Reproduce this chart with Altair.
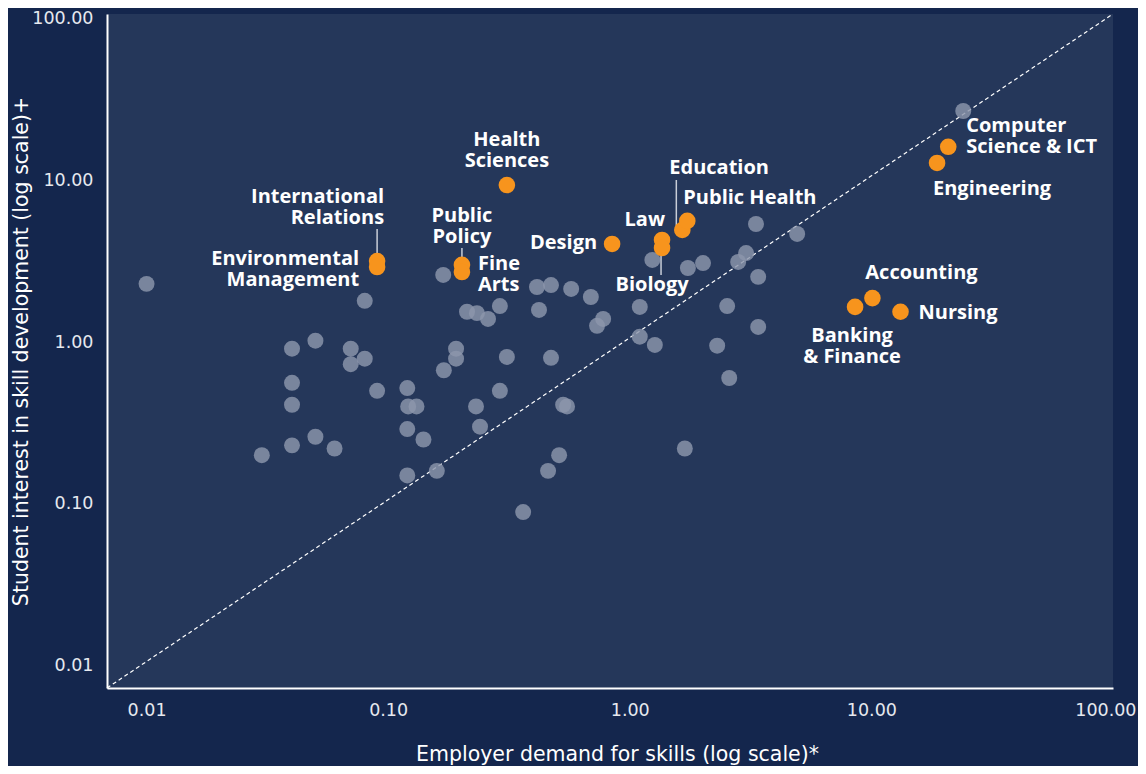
import altair as alt
import pandas as pd

# ---- data ----
gray_x = [0.010, 0.080, 0.040, 0.050, 0.070, 0.080, 0.070, 0.040, 0.040, 0.090,
          0.120, 0.121, 0.131, 0.120, 0.050, 0.040, 0.060, 0.030, 0.120, 0.140,
          0.169, 0.413, 0.472, 0.572, 0.690, 1.10, 0.290, 0.212, 0.233, 0.259,
          0.421, 0.776, 0.732, 0.191, 0.191, 0.170, 0.310, 0.472, 0.290, 0.231,
          0.240, 0.530, 0.550, 0.510, 0.459, 0.159, 0.362, 1.10, 1.27, 1.24,
          1.74, 2.01, 3.33, 4.93, 3.03, 2.81, 3.40, 2.53, 3.40, 2.30,
          2.58, 1.69, 24.0]
gray_y = [2.29, 1.80, 0.91, 1.02, 0.91, 0.79, 0.73, 0.56, 0.41, 0.50,
          0.52, 0.40, 0.40, 0.29, 0.26, 0.23, 0.22, 0.20, 0.15, 0.25,
          2.60, 2.19, 2.25, 2.13, 1.90, 1.65, 1.67, 1.54, 1.51, 1.39,
          1.58, 1.39, 1.26, 0.91, 0.79, 0.67, 0.81, 0.80, 0.50, 0.40,
          0.30, 0.41, 0.40, 0.20, 0.16, 0.16, 0.089, 1.08, 0.96, 3.22,
          2.87, 3.08, 5.37, 4.66, 3.55, 3.13, 2.53, 1.67, 1.24, 0.95,
          0.60, 0.22, 26.8]

hl_names = ["International Relations", "Environmental Management", "Public Policy",
            "Fine Arts", "Health Sciences", "Design", "Law", "Biology", "Education",
            "Public Health", "Computer Science & ICT", "Engineering", "Accounting",
            "Banking & Finance", "Nursing"]
hl_x = [0.090, 0.090, 0.202, 0.202, 0.31, 0.845, 1.36, 1.36, 1.65, 1.73,
        20.8, 18.7, 10.1, 8.56, 13.2]
hl_y = [3.17, 2.91, 3.00, 2.71, 9.35, 4.04, 4.28, 3.82, 4.93, 5.61,
        16.1, 12.8, 1.87, 1.65, 1.54]
hl_labels = ["International\nRelations", "Environmental\nManagement", "Public\nPolicy",
             "Fine\nArts", "Health\nSciences", "Design", "Law", "Biology", "Education",
             "Public Health", "Computer\nScience & ICT", "Engineering", "Accounting",
             "Banking\n& Finance", "Nursing"]

x_ticks = [0.01, 0.1, 1, 10, 100]
y_ticks = [0.01, 0.1, 1, 10, 100]
x_domain = [0.00686, 100.0]
y_domain = [0.00728, 106.6]

# ---- label placement (pixel offsets / styles) ----
label_dx = [7, -18, 0, 16, 0, -15, 3, -10, -13, -4, 18, 55, 49, -3, 18]
label_dy = [-64, -8, -49, -8, -45, -1, -20, 37, -62, -23, -21, 26, -25, 29, 1]
label_align = ["right", "right", "center", "left", "center", "right", "right", "center",
               "left", "left", "left", "center", "center", "center", "left"]

leader_names = ["International Relations", "Public Policy", "Biology", "Education"]
leader_dx = [0, 0, -1, -6]
leader_dy1 = [-32, -17, 0, -50]
leader_dy2 = [-8, -6, 27, -2]

BG = "#14264d"
PLOT = "#25375a"
GRAY = "#8c96ac"
ORANGE = "#f7941d"
AXIS_FONT = "DejaVu Sans"
LABEL_FONT = "Open Sans"

gray_df = pd.DataFrame({"x": gray_x, "y": gray_y})
hl_df = pd.DataFrame({"name": hl_names, "x": hl_x, "y": hl_y, "label": hl_labels})
diag_df = pd.DataFrame({"x": [x_domain[0]], "x2": [x_domain[1]],
                        "y": [y_domain[0]], "y2": [y_domain[1]]})

xs = alt.Scale(type="log", domain=x_domain, nice=False)
ys = alt.Scale(type="log", domain=y_domain, nice=False)

x_axis = alt.Axis(values=x_ticks, format=".2f", title="Employer demand for skills (log scale)*",
                  grid=False, ticks=False, labelFlush=True, labelFlushOffset=23,
                  labelOverlap=False,
                  labelPadding=13, domainColor="#ffffff", domainWidth=2,
                  labelColor="#e6e9ef", labelFont=AXIS_FONT, labelFontSize=17.5,
                  titleColor="#ffffff", titleFont=AXIS_FONT, titleFontSize=20.5,
                  titleFontWeight="normal", titleX=510, titleY=72, titleAlign="center",
                  titleAngle=0, titleBaseline="alphabetic")
y_axis = alt.Axis(values=y_ticks, format=".2f",
                  title="Student interest in skill development (log scale)+",
                  grid=False, ticks=False, labelFlush=False, labelOverlap=False,
                  labelPadding=14, domainColor="#ffffff", domainWidth=2,
                  labelColor="#e6e9ef", labelFont=AXIS_FONT, labelFontSize=17.5,
                  titleColor="#ffffff", titleFont=AXIS_FONT, titleFontSize=20.5,
                  titleFontWeight="normal", titleX=-80, titleY=337, titleAlign="center",
                  titleAngle=270, titleBaseline="alphabetic")

X = alt.X("x:Q", scale=xs, axis=x_axis)
Y = alt.Y("y:Q", scale=ys, axis=y_axis)

diag = alt.Chart(diag_df).mark_rule(color="#ffffff", strokeDash=[4, 3], strokeWidth=1.2).encode(
    x=X, x2="x2:Q", y=Y, y2="y2:Q")

gray = alt.Chart(gray_df).mark_circle(size=255, color=GRAY, opacity=0.82).encode(x=X, y=Y)

layers = [diag, gray]

for n, dx, d1, d2 in zip(leader_names, leader_dx, leader_dy1, leader_dy2):
    layers.append(
        alt.Chart(hl_df).transform_filter(alt.datum.name == n)
        .mark_rule(color="#c9ced8", strokeWidth=1.5, xOffset=dx, x2Offset=dx,
                   yOffset=d1, y2Offset=d2)
        .encode(x=X, y=Y, y2="y:Q")
    )

layers.append(alt.Chart(hl_df).mark_circle(size=275, color=ORANGE, opacity=1).encode(x=X, y=Y))

for n, dx, dy, al in zip(hl_names, label_dx, label_dy, label_align):
    layers.append(
        alt.Chart(hl_df).transform_filter(alt.datum.name == n)
        .mark_text(dx=dx, dy=dy, align=al, baseline="middle", lineBreak="\n", lineHeight=21,
                   font=LABEL_FONT, fontSize=20, fontWeight="bold", color="#ffffff")
        .encode(x=X, y=Y, text="label:N")
    )

chart = alt.layer(*layers).properties(
    width=1006, height=674,
    autosize=alt.AutoSizeParams(type="none"),
    padding={"left": 99, "top": 6, "right": 25, "bottom": 78},
    background=BG,
).configure_view(fill=PLOT, stroke=None)

chart.save("out.html", embed_options={"renderer": "svg", "actions": False})
